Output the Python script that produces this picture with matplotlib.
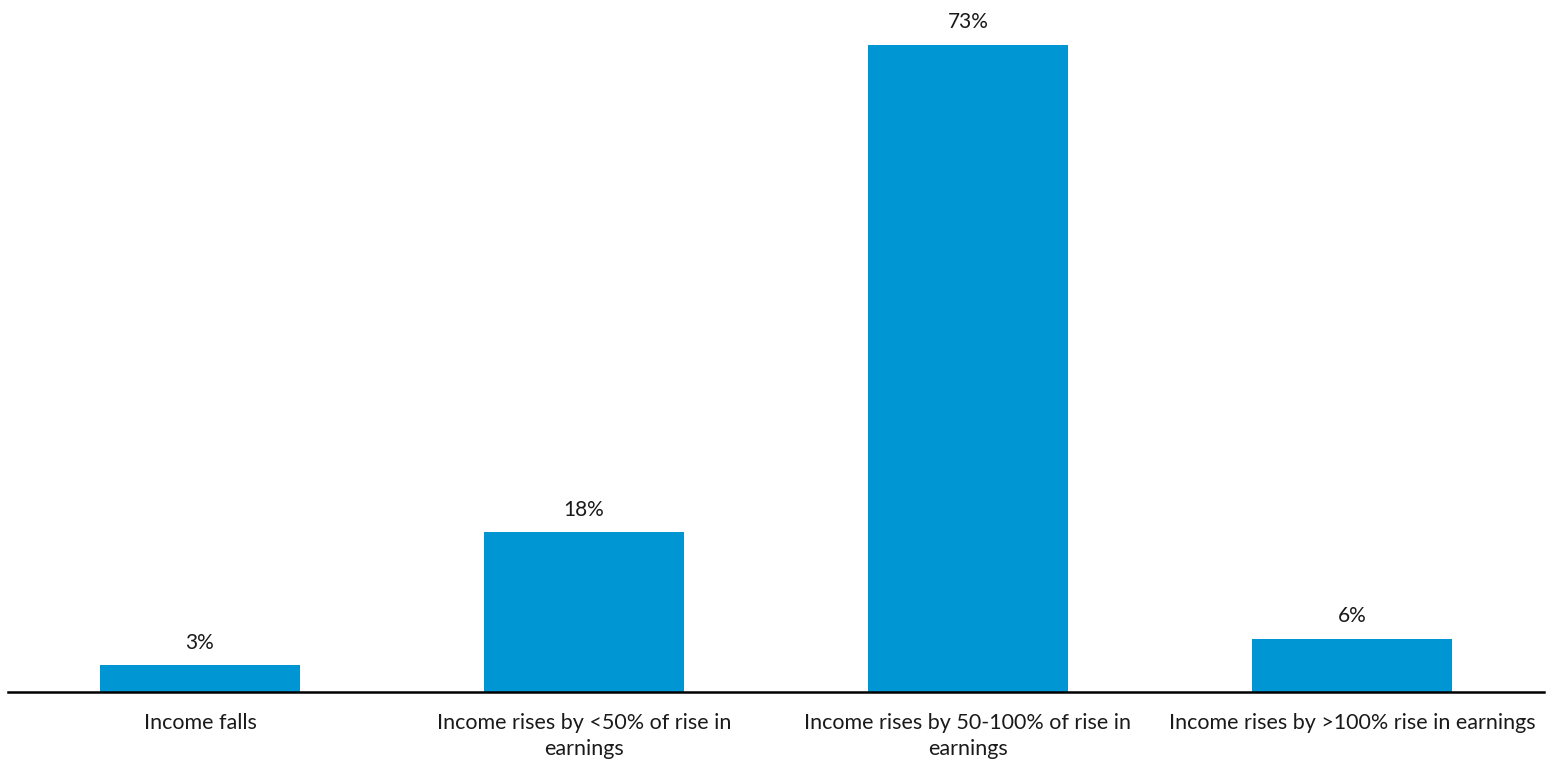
import matplotlib
matplotlib.use("Agg")
import matplotlib.pyplot as plt

categories = ["Income falls",
              "Income rises by <50% of rise in\nearnings",
              "Income rises by 50-100% of rise in\nearnings",
              "Income rises by >100% rise in earnings"]
values = [3, 18, 73, 6]
value_labels = ["3%", "18%", "73%", "6%"]

plt.rcParams['font.family'] = ['Lato', 'DejaVu Sans']

W, H = 1548, 763
fig = plt.figure(figsize=(W/100, H/100), dpi=100)
ax = fig.add_axes([8/W, 71/H, 1536/W, 647/H])

x = range(len(categories))
bars = ax.bar(x, values, width=0.52, color="#0096D3")
ax.set_xlim(-0.5, len(categories) - 0.5)
ax.set_ylim(0, 73)

for xi, v, lab in zip(x, values, value_labels):
    ax.annotate(lab, (xi, v), xytext=(0, 9), textcoords="offset points",
                ha="center", va="bottom", fontsize=15, color="#1a1a1a",
                annotation_clip=False)

ax.set_xticks(list(x))
ax.set_xticklabels(categories, fontsize=15.5, color="#1a1a1a", linespacing=1.4)
ax.tick_params(axis="x", length=0, pad=15)
ax.set_yticks([])
for s in ["top", "right", "left"]:
    ax.spines[s].set_visible(False)
ax.spines["bottom"].set_linewidth(1.8)
ax.spines["bottom"].set_color("black")

fig.savefig("out.png", dpi=100)
